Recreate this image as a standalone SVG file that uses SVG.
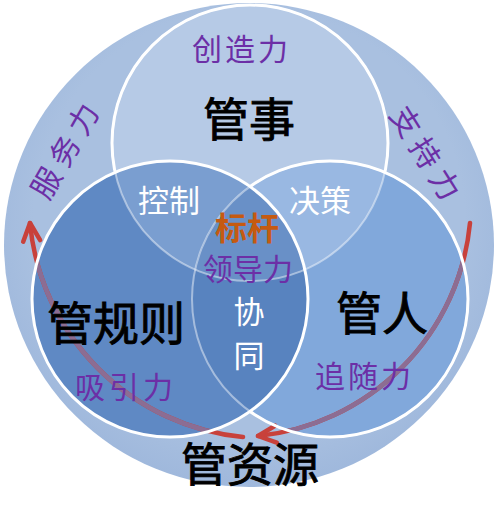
<svg xmlns="http://www.w3.org/2000/svg" width="500" height="517" viewBox="0 0 500 517">
<style>
.t{font-family:"Noto Sans CJK SC","Noto Sans",sans-serif;text-anchor:middle;dominant-baseline:central}
.blk{fill:#000;stroke:#000;stroke-width:0.9;font-size:46px}
.wht{fill:#fff;font-size:31px}
.pur{fill:#6c2fa6;font-size:30px}
.faint{fill:none;stroke:#fff;stroke-opacity:.45;stroke-width:2}
.bright{fill:none;stroke:#fff;stroke-width:3}
.arc{fill:none;stroke:#c8413b;stroke-width:4.5;stroke-linecap:round}
.arcin{fill:none;stroke:#8c6d93;stroke-width:4.5}
</style>
<defs>
<marker id="ah" markerUnits="userSpaceOnUse" markerWidth="40" markerHeight="40" viewBox="-25 -20 40 40" refX="0" refY="0" orient="auto">
<path d="M-18,-8.5 L0,0 L-18,8.5" fill="none" stroke="#c8413b" stroke-width="4.5" stroke-linecap="round" stroke-linejoin="round"/>
</marker>
<clipPath id="cT"><circle cx="250" cy="143" r="138"/></clipPath>
<clipPath id="cR"><circle cx="330" cy="299" r="138"/></clipPath>
<clipPath id="cLR"><circle cx="170" cy="299" r="138"/><circle cx="330" cy="299" r="138"/></clipPath>
<mask id="mTop" maskUnits="userSpaceOnUse" x="0" y="0" width="500" height="517">
<rect width="500" height="517" fill="#fff"/>
<circle cx="170" cy="299" r="138" fill="#000"/>
<circle cx="330" cy="299" r="138" fill="#000"/>
</mask>
<mask id="mRight" maskUnits="userSpaceOnUse" x="0" y="0" width="500" height="517">
<rect width="500" height="517" fill="#fff"/>
<circle cx="170" cy="299" r="138" fill="#000"/>
</mask>
<radialGradient id="gOuter" cx="0.5" cy="0.45" r="0.55">
<stop offset="0.8" stop-color="#a9c0e0"/>
<stop offset="1" stop-color="#9fb8dc"/>
</radialGradient>
</defs>
<rect width="500" height="517" fill="#fff"/>
<g id="outer">
<ellipse cx="249" cy="245" rx="245" ry="242" fill="url(#gOuter)"/>
</g>
<g id="node-top">
<circle cx="250" cy="143" r="138" fill="#b6cae6"/>
</g>
<g id="node-right">
<circle cx="330" cy="299" r="138" fill="#81a8db"/>
<circle cx="330" cy="299" r="138" fill="#99b8e2" clip-path="url(#cT)"/>
</g>
<g id="node-left">
<circle cx="170" cy="299" r="138" fill="#5f89c4"/>
<circle cx="170" cy="299" r="138" fill="#7a9ed0" clip-path="url(#cT)"/>
<circle cx="170" cy="299" r="138" fill="#5883bf" clip-path="url(#cR)"/>
<g clip-path="url(#cT)"><circle cx="170" cy="299" r="138" fill="#6990c7" clip-path="url(#cR)"/></g>
</g>
<g id="connectors">
<path class="arc" d="M243,437 A237,237 0 0 1 30,223" marker-end="url(#ah)"/>
<path class="arc" d="M470,223 A237,237 0 0 1 258,436" marker-end="url(#ah)"/>
<g clip-path="url(#cLR)">
<path class="arcin" d="M243,437 A237,237 0 0 1 30,223"/>
<path class="arcin" d="M470,223 A237,237 0 0 1 258,436"/>
</g>
</g>
<g id="outlines">
<circle class="faint" cx="250" cy="143" r="138"/>
<circle class="faint" cx="330" cy="299" r="138"/>
<circle class="bright" cx="250" cy="143" r="138" mask="url(#mTop)"/>
<circle class="bright" cx="330" cy="299" r="138" mask="url(#mRight)"/>
<circle class="bright" cx="170" cy="299" r="138"/>
</g>
<g id="labels">
<text class="t pur" x="241.5" y="47" letter-spacing="3">创造力</text>
<text class="t blk" x="249" y="116">管事</text>
<text class="t wht" x="169" y="198">控制</text>
<text class="t wht" x="320" y="198">决策</text>
<text class="t" x="247" y="226" fill="#c55a11" font-size="32" font-weight="bold">标杆</text>
<text class="t pur" x="248" y="267" font-size="24">领导力</text>
<text class="t wht" x="249" y="309" font-size="29">协</text>
<text class="t wht" x="249" y="353" font-size="29">同</text>
<text class="t blk" x="116" y="320">管规则</text>
<text class="t pur" x="126" y="385" letter-spacing="4">吸引力</text>
<text class="t blk" x="382" y="310">管人</text>
<text class="t pur" x="364.5" y="374" letter-spacing="3">追随力</text>
<text class="t blk" x="250" y="461">管资源</text>
<text class="t pur" x="66.5" y="150" letter-spacing="7" transform="rotate(-60 63 150)">服务力</text>
<text class="t pur" x="430.5" y="152" letter-spacing="7" transform="rotate(58 427 152)">支持力</text>
</g>
</svg>
